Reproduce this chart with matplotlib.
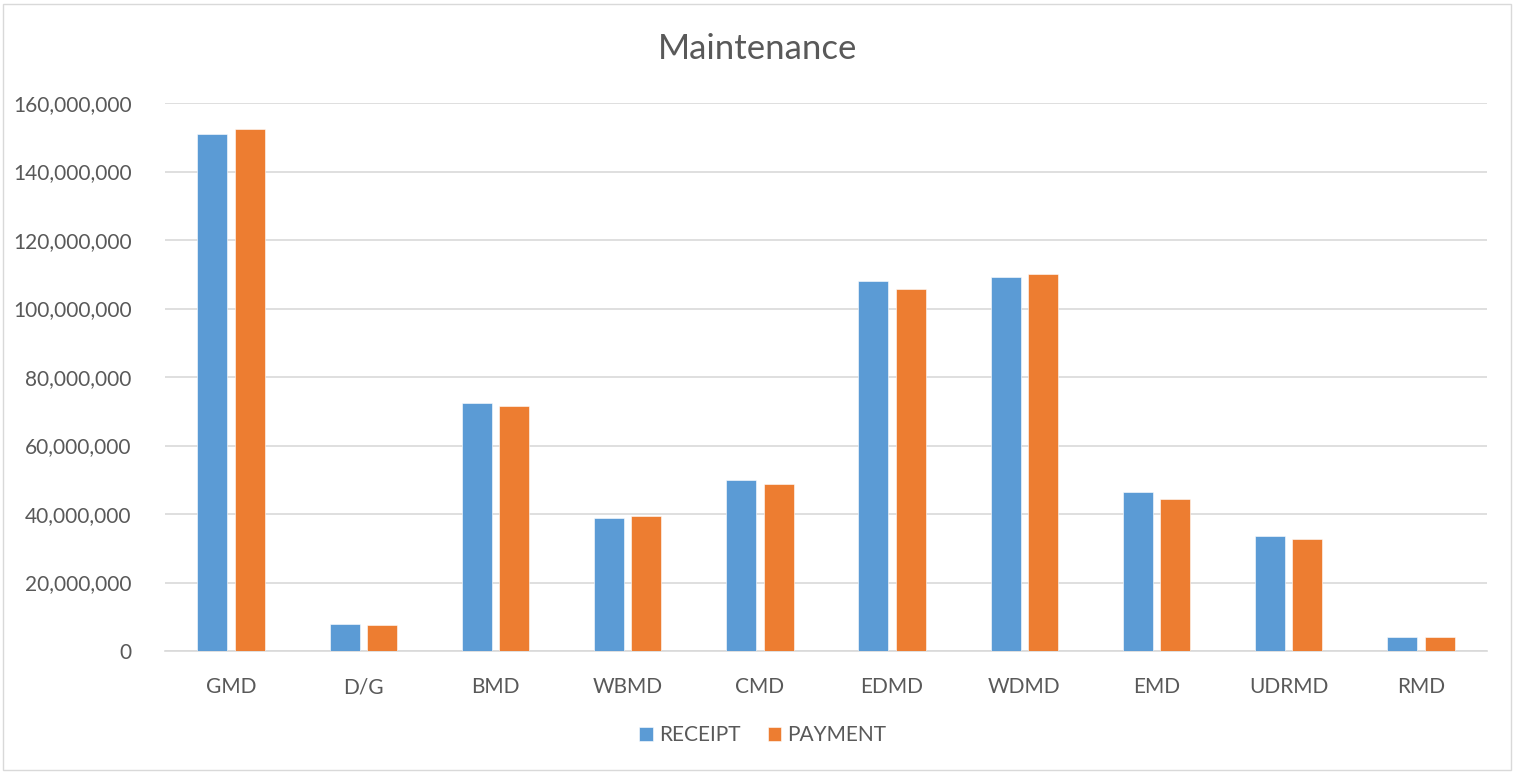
import matplotlib
matplotlib.use("Agg")
import matplotlib.pyplot as plt
import numpy as np
from matplotlib.ticker import FuncFormatter
from matplotlib.patches import Rectangle

categories = ["GMD", "D/G", "BMD", "WBMD", "CMD", "EDMD", "WDMD", "EMD", "UDRMD", "RMD"]
receipt = [151.0e6, 7.9e6, 72.4e6, 38.8e6, 49.9e6, 108.1e6, 109.2e6, 46.3e6, 33.5e6, 4.2e6]
payment = [152.3e6, 7.6e6, 71.6e6, 39.5e6, 48.8e6, 105.7e6, 110.0e6, 44.5e6, 32.6e6, 4.0e6]
yticks = [0, 20e6, 40e6, 60e6, 80e6, 100e6, 120e6, 140e6, 160e6]

plt.rcParams['font.family'] = ['Lato', 'DejaVu Sans']
txt = '#595959'
W, H = 1515, 773
fig = plt.figure(figsize=(W/100, H/100), dpi=100)
fig.patches.append(Rectangle((3/W, 3/H), 1-7/W, 1-7/H, transform=fig.transFigure,
                             fill=False, edgecolor='#d9d9d9', linewidth=1))
ax = fig.add_axes([165/W, 1-651/H, (1487-165)/W, (651-103)/H])

x = np.arange(len(categories))
bw = 0.227
off = 0.142
ax.bar(x - off, receipt, bw, color='#5B9BD5', label='RECEIPT', edgecolor='white', linewidth=0.4, zorder=3)
ax.bar(x + off, payment, bw, color='#ED7D31', label='PAYMENT', edgecolor='white', linewidth=0.4, zorder=3)

ax.set_xlim(-0.5, len(categories) - 0.5)
ax.set_ylim(0, 160e6)
ax.set_yticks(yticks)
ax.yaxis.set_major_formatter(FuncFormatter(lambda v, p: f"{int(v):,}"))
ax.set_xticks(x)
ax.set_xticklabels(categories)
ax.grid(axis='y', color='#d9d9d9', linewidth=1.2, zorder=0)
for s in ['top', 'right', 'left']:
    ax.spines[s].set_visible(False)
ax.spines['bottom'].set_color('#d9d9d9')
ax.spines['bottom'].set_linewidth(1.2)
ax.tick_params(axis='both', length=0, colors=txt, labelsize=15)
ax.tick_params(axis='x', pad=19)
ax.tick_params(axis='y', pad=24)

fig.text(758/W, 1-49/H, 'Maintenance', ha='center', va='center', fontsize=25, color=txt)
leg = fig.legend(loc='center', bbox_to_anchor=(763/W, 1-735/H), ncol=2, frameon=False,
                 fontsize=15, handlelength=0.65, handleheight=0.65, handletextpad=0.3,
                 columnspacing=1.3, labelcolor=txt)
fig.savefig('out.png', dpi=100)
